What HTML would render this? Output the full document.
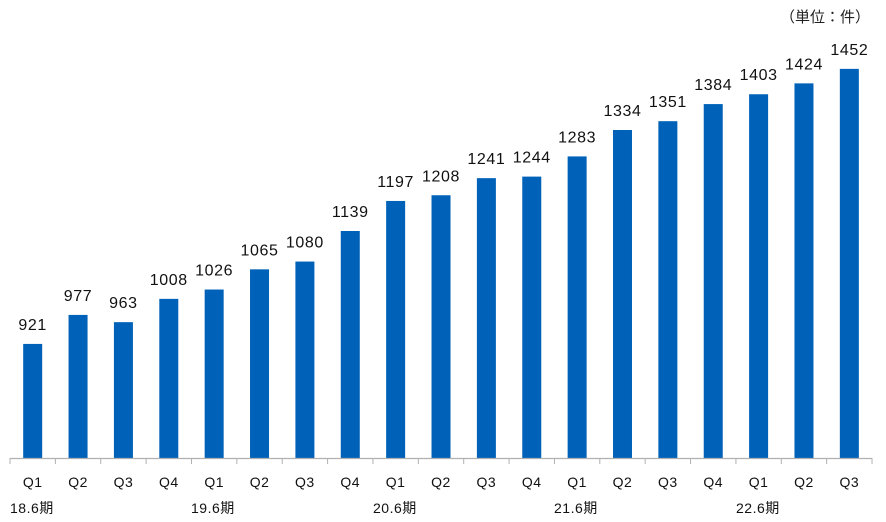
<!DOCTYPE html>
<html><head><meta charset="utf-8"><style>
html,body{margin:0;padding:0;background:#fff;}
svg{display:block;font-family:"Liberation Sans","Noto Sans CJK JP",sans-serif;}
</style></head><body>
<svg width="886" height="522" viewBox="0 0 886 522" xmlns="http://www.w3.org/2000/svg">
<text x="870" y="22" text-anchor="end" font-size="15" fill="#222">（単位：件）</text>
<g id="bars"></g>
<line x1="10" y1="458.5" x2="872" y2="458.5" stroke="#b0b0b0" stroke-width="1.2"/>
<g id="ticks" stroke="#b0b0b0" stroke-width="1"></g>
<g id="lbl"></g>
<g font-size="14" fill="#111" letter-spacing="0.5">
<text x="10" y="513">18.6期</text>
<text x="191" y="513">19.6期</text>
<text x="373" y="513">20.6期</text>
<text x="554" y="513">21.6期</text>
<text x="736" y="513">22.6期</text>
</g>
</svg>
<script>
var v=[921,977,963,1008,1026,1065,1080,1139,1197,1208,1241,1244,1283,1334,1351,1384,1403,1424,1452];
var ns="http://www.w3.org/2000/svg",s=45.37,b=document.getElementById("bars"),t=document.getElementById("ticks"),l=document.getElementById("lbl");
function el(n,a,p,txt){var e=document.createElementNS(ns,n);for(var k in a)e.setAttribute(k,a[k]);if(txt)e.textContent=txt;p.appendChild(e);}
for(var i=0;i<=19;i++){var x=10+s*i;el("line",{x1:x,y1:458,x2:x,y2:464},t);}
for(var i=0;i<19;i++){var c=10+s*(i+0.5),y=821-0.518*v[i];
el("rect",{x:c-9.5,y:y,width:19,height:458.5-y,fill:"#0061b8"},b);
el("text",{x:c,y:y-14,"text-anchor":"middle","font-size":"16","letter-spacing":"0.6",fill:"#111"},l,String(v[i]));
el("text",{x:c,y:487,"text-anchor":"middle","font-size":"14","letter-spacing":"0.5",fill:"#111"},l,"Q"+(i%4+1));}
</script>
</body></html>
